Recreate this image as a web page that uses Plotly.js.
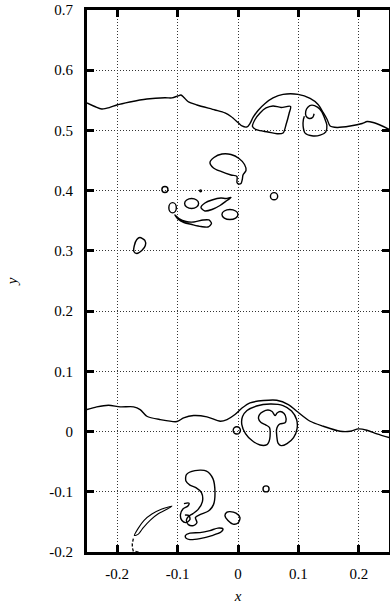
<!DOCTYPE html>
<html><head><meta charset="utf-8">
<script src="https://cdn.plot.ly/plotly-3.0.1.min.js"></script>
<style>html,body{margin:0;padding:0;background:#fff;}#chart{width:390px;height:609px;}</style>
</head><body><div id="chart"></div>
<script>
// ---- data: contour lines of the interface (x, y) ----
const upperInterfaceX = [-0.25,-0.2371,-0.2255,-0.2122,-0.2006,-0.1791,-0.1509,-0.121,-0.1094,-0.0995,-0.0945,-0.0895,-0.0829,-0.068,-0.0381,-0.0216,-0.0116,0,0.0066,0.0149,0.0199,0.0249,0.0332,0.0448,0.058,0.0746,0.0995,0.1194,0.1326,0.1409,0.1476,0.1525,0.1641,0.1857,0.2056,0.2139,0.2238,0.2388,0.2504];
const upperInterfaceY = [0.5457,0.5398,0.5357,0.5382,0.5423,0.5473,0.5523,0.5543,0.554,0.5573,0.5589,0.5548,0.5481,0.5423,0.534,0.529,0.5232,0.5132,0.5074,0.5058,0.5116,0.5216,0.5332,0.5448,0.5539,0.5598,0.5598,0.5531,0.5431,0.5299,0.5182,0.5074,0.505,0.5074,0.5116,0.5149,0.5132,0.5074,0.5016];

const upperLoopX = [0.0464,0.058,0.0713,0.087,0.0846,0.0796,0.0746,0.0647,0.0497,0.0315,0.024,0.0282,0.0365,0.0464];
const upperLoopY = [0.5373,0.5407,0.5382,0.5398,0.5282,0.5099,0.4958,0.4945,0.4975,0.5008,0.5066,0.5182,0.529,0.5373];

const upperSwirlX = [0.126,0.1239,0.1177,0.1127,0.1122,0.1156,0.1222,0.1315,0.1388,0.1431,0.1471,0.1454,0.136,0.1222,0.1111,0.1078,0.1083,0.1099];
const upperSwirlY = [0.5277,0.522,0.5199,0.5237,0.532,0.5387,0.542,0.5387,0.531,0.5211,0.5088,0.4978,0.4922,0.4911,0.4955,0.5071,0.5182,0.5237];

const tailBlobX = [-0.0464,-0.0398,-0.0265,-0.0116,0.0017,0.0108,0.0133,0.0083,0.0071,0.005,0.0008,-0.0017,-0.0017,-0.0116,-0.0282,-0.0406,-0.0464];
const tailBlobY = [0.4468,0.4551,0.4609,0.4601,0.4535,0.4435,0.4335,0.426,0.4186,0.4119,0.4111,0.4136,0.4236,0.426,0.4319,0.4377,0.4468];

const slantBlobX = [-0.0613,-0.0547,-0.0431,-0.0282,-0.0199,-0.0116,-0.0182,-0.0298,-0.0431,-0.0547,-0.0613];
const slantBlobY = [0.3721,0.3795,0.3845,0.3878,0.387,0.3887,0.3837,0.3754,0.3687,0.3663,0.3721];

const longBlobX = [-0.1045,-0.0978,-0.0862,-0.073,-0.058,-0.0481,-0.0439,-0.0497,-0.0613,-0.0763,-0.0895,-0.0995,-0.1045];
const longBlobY = [0.3596,0.3538,0.3488,0.348,0.3513,0.3513,0.3455,0.3397,0.3405,0.3438,0.3471,0.353,0.3596];

const leftBlobX = [-0.1625,-0.1542,-0.1534,-0.1592,-0.1675,-0.1724,-0.1716,-0.1675,-0.1625];
const leftBlobY = [0.3222,0.3173,0.3089,0.3006,0.2957,0.299,0.3089,0.3189,0.3222];

const lowerInterfaceX = [-0.25,-0.2338,-0.2144,-0.1951,-0.1729,-0.162,-0.1509,-0.1288,-0.1011,-0.09,-0.0735,-0.0514,-0.0293,-0.0182,-0.005,0.0066,0.0199,0.042,0.0642,0.0834,0.0973,0.1194,0.1414,0.1691,0.1857,0.1995,0.2134,0.23,0.2504];
const lowerInterfaceY = [0.0365,0.041,0.0437,0.041,0.041,0.0365,0.0254,0.0199,0.0166,0.0228,0.0266,0.0244,0.0171,0.0199,0.0282,0.039,0.0477,0.0515,0.052,0.0448,0.0337,0.0171,0.0088,0.0005,0.0005,0.0045,0.0022,-0.0038,-0.01];

const mushroomX = [0.0481,0.0365,0.0232,0.0124,0.0063,0.0075,0.0149,0.0307,0.0531,0.0746,0.0887,0.097,0.0978,0.092,0.0812,0.0713,0.0663,0.0642,0.0638,0.0658,0.0696,0.0779,0.0796,0.0763,0.0696,0.0647,0.0613,0.0564,0.0497,0.0415,0.0356,0.034,0.0381,0.0464,0.0522,0.0531,0.0514,0.0481];
const mushroomY = [-0.0216,-0.0224,-0.0149,-0.0033,0.0116,0.0249,0.0349,0.0424,0.0457,0.0432,0.0341,0.0199,0.005,-0.01,-0.0199,-0.0233,-0.0191,-0.0078,0.0033,0.0091,0.0128,0.0145,0.0216,0.0299,0.0332,0.0307,0.0266,0.0332,0.0357,0.0332,0.0282,0.0216,0.015,0.0108,0.0066,-0.0078,-0.0166,-0.0216];

const sBlobX = [-0.0862,-0.0854,-0.0713,-0.0522,-0.0415,-0.0381,-0.0406,-0.0489,-0.063,-0.0705,-0.068,-0.0738,-0.0821,-0.0854,-0.0821,-0.0746,-0.0663,-0.0589,-0.0605,-0.0697,-0.0796,-0.0862];
const sBlobY = [-0.0822,-0.0714,-0.0648,-0.0656,-0.0781,-0.1013,-0.1213,-0.132,-0.1379,-0.1428,-0.1512,-0.1561,-0.1545,-0.147,-0.1412,-0.1362,-0.1296,-0.1163,-0.1013,-0.093,-0.0889,-0.0822];

const curlX = [-0.0895,-0.0812,-0.0829,-0.0912,-0.0953,-0.0928,-0.0862,-0.0796,-0.0812,-0.0879];
const curlY = [-0.1196,-0.1188,-0.1237,-0.1287,-0.1379,-0.1478,-0.1512,-0.1462,-0.1395,-0.1387];

const triBlobX = [-0.0133,-0.0033,0.0033,0,-0.0083,-0.0166,-0.0216,-0.0182,-0.0133];
const triBlobY = [-0.1329,-0.1354,-0.1428,-0.152,-0.1536,-0.1478,-0.1395,-0.1337,-0.1329];

const bottomBlobX = [-0.0871,-0.0796,-0.063,-0.0464,-0.0332,-0.0249,-0.0282,-0.0431,-0.063,-0.0796,-0.0862,-0.0871];
const bottomBlobY = [-0.1727,-0.1686,-0.1678,-0.1644,-0.1603,-0.1619,-0.1669,-0.1727,-0.1777,-0.1794,-0.1769,-0.1727];

const crescentX = [-0.1094,-0.126,-0.1426,-0.1559,-0.165,-0.1716,-0.165,-0.1567,-0.1451,-0.1326,-0.1202,-0.1094];
const crescentY = [-0.1237,-0.1287,-0.137,-0.1478,-0.1603,-0.1727,-0.1703,-0.1595,-0.147,-0.137,-0.1304,-0.1237];

const crescentTailX = [-0.1733,-0.175,-0.175,-0.1733,-0.168,-0.162];
const crescentTailY = [-0.1777,-0.186,-0.1927,-0.1985,-0.1995,-0.1998];

// small round drops: centre x, centre y, radius x, radius y
const dropCX = [-0.121,-0.0619,0.0597,-0.0768,-0.1083,-0.0133,-0.002,0.0464];
const dropCY = [0.402,0.3998,0.3908,0.3787,0.3716,0.3604,0.002,-0.0952];
const dropRX = [0.005,0.0015,0.006,0.0116,0.0062,0.0133,0.006,0.005];
const dropRY = [0.005,0.0015,0.006,0.0083,0.0085,0.0083,0.006,0.005];

// axis ticks
const xTickVals = [-0.2,-0.1,0,0.1,0.2];
const xTickText = ["-0.2","-0.1","0","0.1","0.2"];
const yTickVals = [-0.2,-0.1,0,0.1,0.2,0.3,0.4,0.5,0.6,0.7];
const yTickText = ["-0.2","-0.1","0","0.1","0.2","0.3","0.4","0.5","0.6","0.7"];

// ---- build ----
const lineStyle = {color:'#000', width:1.4, shape:'spline', smoothing:0.8};
const curves = [
  [upperInterfaceX, upperInterfaceY],
  [upperLoopX, upperLoopY],
  [upperSwirlX, upperSwirlY],
  [tailBlobX, tailBlobY],
  [slantBlobX, slantBlobY],
  [longBlobX, longBlobY],
  [leftBlobX, leftBlobY],
  [lowerInterfaceX, lowerInterfaceY],
  [mushroomX, mushroomY],
  [sBlobX, sBlobY],
  [curlX, curlY],
  [triBlobX, triBlobY],
  [bottomBlobX, bottomBlobY]
];
const traces = curves.map(c => ({x:c[0], y:c[1], type:'scatter', mode:'lines', line:lineStyle, hoverinfo:'skip', showlegend:false}));
traces.push({x:crescentX, y:crescentY, type:'scatter', mode:'lines', line:{color:'#000', width:1.1, shape:'spline', smoothing:0.6}, hoverinfo:'skip', showlegend:false});
traces.push({x:crescentTailX, y:crescentTailY, type:'scatter', mode:'lines', line:{color:'#000', width:1.3, dash:'3px,2px'}, hoverinfo:'skip', showlegend:false});

const shapes = dropCX.map((cx,i) => ({type:'circle', xref:'x', yref:'y', x0:cx-dropRX[i], x1:cx+dropRX[i], y0:dropCY[i]-dropRY[i], y1:dropCY[i]+dropRY[i], line:{color:'#000', width:1.4}, fillcolor:'rgba(0,0,0,0)'}));

const serif = 'Liberation Serif, DejaVu Serif, serif';
const axisCommon = {
  showgrid:true, gridcolor:'#333', griddash:'1px,2px', gridwidth:1,
  zeroline:false, showline:true, linecolor:'#000', linewidth:3, mirror:'ticks',
  ticks:'inside', ticklen:7, tickwidth:3, tickcolor:'#000',
  tickfont:{family:serif, size:15, color:'#000'}, fixedrange:true
};
const layout = {
  width:390, height:609,
  margin:{l:87, r:1, t:10, b:57},
  paper_bgcolor:'#fff', plot_bgcolor:'#fff',
  showlegend:false,
  xaxis:Object.assign({}, axisCommon, {range:[-0.25,0.25], tickmode:'array', tickvals:xTickVals, ticktext:xTickText, ticklabelstandoff:6,
    title:{text:'<i>x</i>', font:{family:serif, size:15, color:'#000'}, standoff:10}}),
  yaxis:Object.assign({}, axisCommon, {range:[-0.2,0.7], tickmode:'array', tickvals:yTickVals, ticktext:yTickText, ticklabelstandoff:8,
    title:{text:'<i>y</i>', font:{family:serif, size:15, color:'#000'}, standoff:29}}),
  shapes:shapes
};
Plotly.newPlot('chart', traces, layout, {displayModeBar:false, staticPlot:true});
</script></body></html>
